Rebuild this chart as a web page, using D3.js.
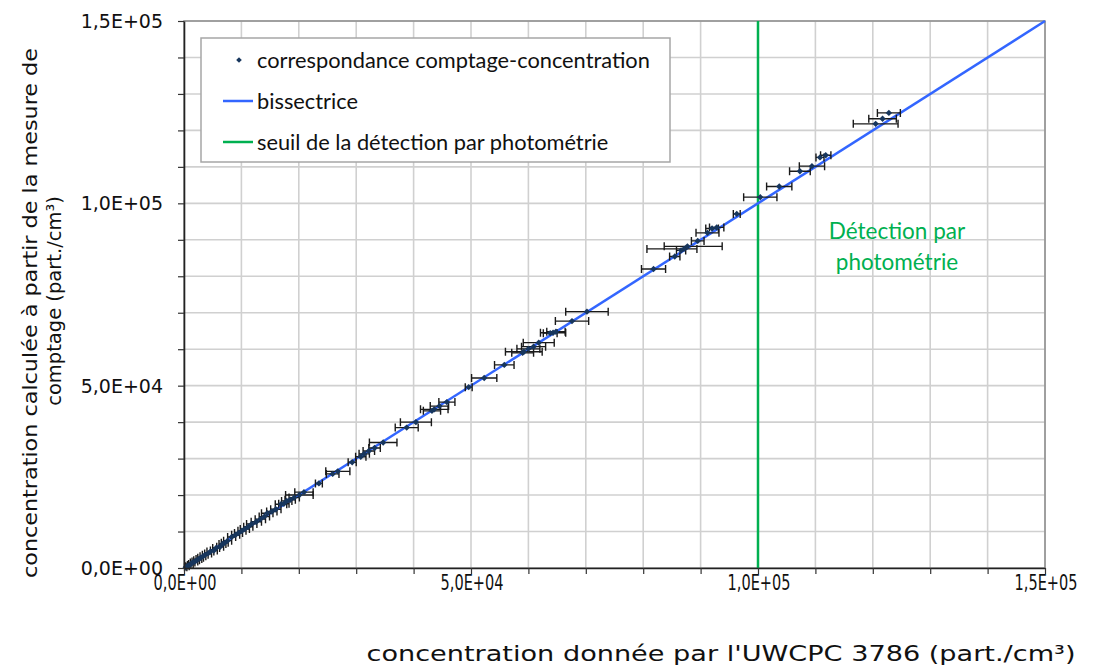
<!DOCTYPE html>
<html>
<head>
<meta charset="utf-8">
<script src="https://cdn.jsdelivr.net/npm/d3@7"></script>
<style>
  html, body { margin: 0; padding: 0; background: #fff; }
  svg { display: block; }
</style>
</head>
<body>
<svg id="chart" width="1093" height="666"></svg>
<script>
// Concentration given by the UWCPC 3786 (x) vs concentration computed from counting (y)
const countX = [
  300, 600, 900, 1200, 1500, 1900, 2200, 2600, 2900, 3300,
  3700, 4200, 4600, 5200, 5600, 6300, 6700, 7100, 7600, 8300,
  9000, 9500, 10100, 10600, 11200, 11800, 12600, 13300, 14000, 14500,
  15300, 16000, 16900, 17400, 17900, 18500, 19200, 20100, 20900, 23500,
  25900, 26800, 29300, 30800, 31400, 32200, 33200, 34700, 38800, 40400,
  43200, 43600, 44500, 45800, 49600, 52300, 55800, 59000, 59200, 60000,
  60900, 61800, 63800, 64300, 64800, 67600, 70200, 81800, 85500, 86600,
  87100, 87700, 89500, 91200, 92000, 92800, 96300, 100400, 103700, 107300,
  109400, 110800, 111800, 120500, 121700, 122800
];
const countY = [
  200, 500, 800, 1100, 1500, 1800, 2100, 2500, 2800, 3200,
  3600, 4000, 4500, 4800, 5500, 5800, 6600, 6900, 7500, 8500,
  9100, 9600, 10200, 10700, 11300, 12100, 12700, 13400, 14100, 15000,
  15500, 16100, 17500, 17600, 18400, 18700, 19300, 20000, 20800, 23200,
  25800, 26500, 29000, 30500, 31300, 32100, 32900, 34400, 38500, 40000,
  43100, 43500, 44400, 45500, 49600, 52100, 55700, 59000, 59300, 60100,
  60700, 61800, 64400, 64500, 64800, 67700, 70300, 82000, 85400, 87100,
  87500, 88200, 89700, 91900, 93100, 93400, 97100, 101700, 104600, 108800,
  110200, 112600, 113200, 121800, 123200, 124800
];
// horizontal uncertainty (below / above the UWCPC value)
const errMinus = [
  200, 300, 300, 400, 400, 500, 500, 500, 500, 500,
  500, 600, 600, 600, 600, 600, 600, 600, 700, 700,
  700, 700, 700, 800, 800, 900, 900, 900, 900, 1000,
  900, 900, 1000, 900, 900, 900, 900, 2400, 1600, 600,
  1100, 2100, 700, 900, 900, 1000, 1000, 2400, 2000, 2700,
  1500, 2400, 1600, 1400, 600, 2200, 1700, 1900, 3200, 2000,
  2100, 2700, 1200, 2200, 1600, 2900, 3700, 2100, 900, 800,
  6450, 4040, 1100, 2000, 1100, 1250, 600, 2900, 2200, 1800,
  2200, 700, 900, 3900, 2400, 2000
];
const errPlus = [
  200, 300, 300, 400, 400, 500, 500, 500, 500, 500,
  500, 600, 600, 600, 600, 600, 600, 600, 700, 700,
  700, 700, 700, 800, 800, 900, 900, 900, 900, 1000,
  900, 900, 1000, 900, 900, 900, 900, 2400, 1600, 600,
  1100, 2100, 700, 900, 900, 1000, 1000, 2400, 2000, 2700,
  1500, 2400, 1600, 1400, 600, 2200, 1700, 1900, 3200, 2000,
  2100, 2700, 1200, 2200, 1600, 2900, 3700, 2100, 900, 800,
  2260, 6060, 1100, 2000, 1100, 1250, 600, 2900, 2200, 1800,
  2200, 700, 900, 3900, 2400, 2000
];
const axisMax = 150000;
const detectionThreshold = 100000;
const legendLabels = [
  "correspondance comptage-concentration",
  "bissectrice",
  "seuil de la détection par photométrie"
];
const xTitle = "concentration  donnée par l'UWCPC 3786 (part./cm³)";
const yTitleLines = ["concentration  calculée à partir de la mesure de", "comptage (part./cm³)"];
const zoneLabel = ["Détection par", "photométrie"];

const points = countX.map((x, i) => ({ x, y: countY[i], lo: x - errMinus[i], hi: x + errPlus[i] }));

const colors = { point: "#17365d", err: "#1a1a1a", bis: "#3366ff", seuil: "#00b050", grid: "#d0d0d0" };
const tickFont = "DejaVu Sans, Verdana, sans-serif";
const legendFont = "Lato, Open Sans, sans-serif";

const svg = d3.select("#chart");
const plot = { left: 184, right: 1045, top: 21, bottom: 568 };
const x = d3.scaleLinear().domain([0, axisMax]).range([plot.left, plot.right]);
const y = d3.scaleLinear().domain([0, axisMax]).range([plot.bottom, plot.top]);
const tickVals = d3.range(0, axisMax + 1, 10000);

function sci(d) {
  if (d === 0) return "0,0E+00";
  const e = Math.floor(Math.log10(d));
  const m = d / Math.pow(10, e);
  return m.toFixed(1).replace(".", ",") + "E+" + String(e).padStart(2, "0");
}
// square diamond marker of half-diagonal r
const diamondPath = r => `M0,${-r}L${r},0L0,${r}L${-r},0Z`;

// grid
const grid = svg.append("g");
grid.selectAll("line.v").data(tickVals.slice(1)).join("line").attr("class", "v")
  .attr("x1", d => x(d)).attr("x2", d => x(d)).attr("y1", plot.top).attr("y2", plot.bottom)
  .attr("stroke", colors.grid).attr("stroke-width", 1.6);
grid.selectAll("line.h").data(tickVals.slice(1)).join("line").attr("class", "h")
  .attr("x1", plot.left).attr("x2", plot.right).attr("y1", d => y(d)).attr("y2", d => y(d))
  .attr("stroke", colors.grid).attr("stroke-width", 1.6);

// plot frame (top / right)
svg.append("rect").attr("x", plot.left).attr("y", plot.top)
  .attr("width", plot.right - plot.left).attr("height", plot.bottom - plot.top)
  .attr("fill", "none").attr("stroke", "#8c8c8c").attr("stroke-width", 1.5);

// detection threshold
svg.append("line")
  .attr("x1", x(detectionThreshold)).attr("x2", x(detectionThreshold))
  .attr("y1", y(axisMax)).attr("y2", y(0))
  .attr("stroke", colors.seuil).attr("stroke-width", 2.5);

// bisector
svg.append("line")
  .attr("x1", x(0)).attr("y1", y(0)).attr("x2", x(axisMax)).attr("y2", y(axisMax))
  .attr("stroke", colors.bis).attr("stroke-width", 2.5);

// error bars
const eb = svg.append("g").attr("stroke", colors.err).attr("stroke-width", 1.4).attr("fill", "none");
eb.selectAll("path").data(points).join("path")
  .attr("d", d => {
    const yy = y(d.y), a = x(d.lo), b = x(d.hi);
    return `M${a},${yy}H${b}M${a},${yy - 4}V${yy + 4}M${b},${yy - 4}V${yy + 4}`;
  });

// data points (diamonds)
svg.append("g").selectAll("path").data(points).join("path")
  .attr("d", diamondPath(3.2))
  .attr("transform", d => `translate(${x(d.x)},${y(d.y)})`)
  .attr("fill", colors.point);

// axes
const xAxis = svg.append("g").attr("transform", `translate(0,${plot.bottom})`)
  .call(d3.axisBottom(x).tickValues(tickVals).tickSize(6).tickSizeOuter(0).tickFormat(""));
const yAxis = svg.append("g").attr("transform", `translate(${plot.left},0)`)
  .call(d3.axisLeft(y).tickValues(tickVals).tickSize(6).tickSizeOuter(0).tickFormat(""));
[xAxis, yAxis].forEach(g => {
  g.select(".domain").attr("stroke", "#222").attr("stroke-width", 1.6);
  g.selectAll(".tick line").attr("stroke", "#333").attr("stroke-width", 1.2);
});

const majors = [0, 50000, 100000, 150000];
// x labels are set in a horizontally narrowed face
svg.append("g").selectAll("text").data(majors).join("text")
  .attr("transform", d => `translate(${x(d) + 1},589.5) scale(0.66,1)`)
  .attr("text-anchor", "middle")
  .attr("font-family", tickFont).attr("font-size", 22).attr("fill", "#111")
  .text(sci);
svg.append("g").selectAll("text").data(majors).join("text")
  .attr("x", 163).attr("y", d => y(d) + 7)
  .attr("text-anchor", "end")
  .attr("font-family", tickFont).attr("font-size", 19).attr("fill", "#111")
  .text(sci);

// axis titles
svg.append("text")
  .attr("x", 721).attr("y", 661).attr("text-anchor", "middle")
  .attr("font-family", tickFont).attr("font-size", 22).attr("fill", "#111")
  .attr("textLength", 709).attr("lengthAdjust", "spacingAndGlyphs")
  .text(xTitle);
const yt = svg.append("g").attr("transform", "rotate(-90)");
const yCenters = [313, 301];
yt.selectAll("text").data(yTitleLines).join("text")
  .attr("x", (d, i) => -yCenters[i]).attr("y", (d, i) => 37 + i * 24)
  .attr("text-anchor", "middle")
  .attr("font-family", tickFont).attr("font-size", 19.5).attr("fill", "#111")
  .attr("textLength", (d, i) => i === 0 ? 530 : null)
  .attr("lengthAdjust", "spacingAndGlyphs")
  .text(d => d);

// zone annotation
svg.append("g").selectAll("text").data(zoneLabel).join("text")
  .attr("x", 897).attr("y", (d, i) => 239 + i * 31)
  .attr("text-anchor", "middle")
  .attr("font-family", legendFont).attr("font-size", 22.5).attr("fill", colors.seuil)
  .text(d => d);

// legend
const lg = svg.append("g");
lg.append("rect").attr("x", 201).attr("y", 38).attr("width", 469).attr("height", 124)
  .attr("fill", "#fff").attr("stroke", "#a6a6a6").attr("stroke-width", 1.5);
const rowsY = [60, 101, 142];
lg.append("path").attr("d", diamondPath(2.8))
  .attr("transform", `translate(239,${rowsY[0]})`).attr("fill", colors.point);
lg.append("line").attr("x1", 223).attr("x2", 253).attr("y1", rowsY[1]).attr("y2", rowsY[1])
  .attr("stroke", colors.bis).attr("stroke-width", 2.5);
lg.append("line").attr("x1", 223).attr("x2", 253).attr("y1", rowsY[2]).attr("y2", rowsY[2])
  .attr("stroke", colors.seuil).attr("stroke-width", 2.5);
lg.selectAll("text").data(legendLabels).join("text")
  .attr("x", 257).attr("y", (d, i) => rowsY[i] + 7.5)
  .attr("font-family", legendFont).attr("font-size", 21.8).attr("fill", "#111")
  .text(d => d);
</script>
</body>
</html>
